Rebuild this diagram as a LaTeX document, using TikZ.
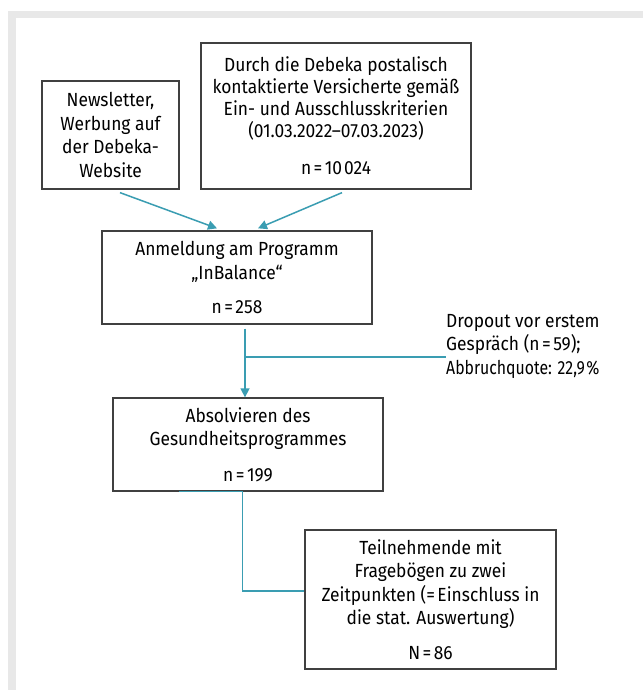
\documentclass[tikz,border=0pt]{standalone}
\usepackage{fontspec}
\usepackage{graphicx}
\setmainfont[FakeStretch=0.915]{Fira Sans}
\usetikzlibrary{arrows.meta,calc}
\definecolor{tealc}{HTML}{3A9DB2}
\definecolor{boxc}{HTML}{404040}
\definecolor{frame}{HTML}{E8E8E8}
\newcommand{\eqs}{\kern2.5pt=\kern2.5pt}
\begin{document}
\begin{tikzpicture}[x=1pt,y=1pt,
  box/.style={draw=boxc,line width=1.3pt,align=center,inner sep=0pt,
    font=\fontsize{19}{23.5}\selectfont},
  conn/.style={draw=tealc,line width=1.5pt},
  arr/.style={conn,-{Triangle[length=9pt,width=9pt]}}]
\useasboundingbox (0,0) rectangle (643,690);
\fill[frame] (8,0) rectangle (643,679);
\fill[white] (15.5,0) rectangle (643,671.5);
\node[box,minimum width=137,minimum height=108] (nl) at (110.5,555)
  {Newsletter,\\Werbung auf\\der Debeka-\\Website};
\node[box,minimum width=270,minimum height=146,
  font=\fontsize{19}{22}\selectfont] (deb) at (336,574)
  {Durch die Debeka postalisch\\kontaktierte Versicherte gemäß\\Ein- und Ausschlusskriterien\\(01.03.2022–07.03.2023)\\[15pt]n\eqs10\kern2pt024};
\node[box,minimum width=270,minimum height=93] (anm) at (237,412.5)
  {Anmeldung am Programm\\„InBalance“\\[11pt]n\eqs258};
\node[box,minimum width=270,minimum height=93] (abs) at (248,245.5)
  {Absolvieren des\\Gesundheitsprogrammes\\[12pt]n\eqs199};
\node[box,minimum width=251,minimum height=139] (teil) at (430.5,90.5)
  {Teilnehmende mit\\Fragebögen zu zwei\\Zeitpunkten (=\kern2.5pt Einschluss in\\die stat. Auswertung)\\[11pt]N\eqs86};
\node[anchor=west,align=left,inner sep=0pt,
  font=\fontsize{19}{23.5}\selectfont] (drop) at (446,344)
  {Dropout vor erstem\\Gespräch (n\eqs59);\\\scalebox{0.91}[1]{Abbruchquote: 22,9\kern1.5pt\%}};
\draw[arr] ($(nl.south)+(9.5,-3)$) -- ($(anm.north)+(-20,2)$);
\draw[arr] ($(deb.south)+(6,-3)$) -- ($(anm.north)+(21,2)$);
\coordinate (vtop) at ($(anm.south)+(8,-4)$);
\coordinate (br) at (245,333);
\draw[arr] (vtop) -- ($(abs.north)+(-3,0)$);
\draw[conn] (br) -- (br -| drop.west);
\coordinate (bst) at ($(abs.south west)+(67,0)$);
\draw[conn] (bst) -- ($(abs.south west)+(130,0)$) |- ($(teil.west)+(0,8.5)$);
\end{tikzpicture}
\end{document}
